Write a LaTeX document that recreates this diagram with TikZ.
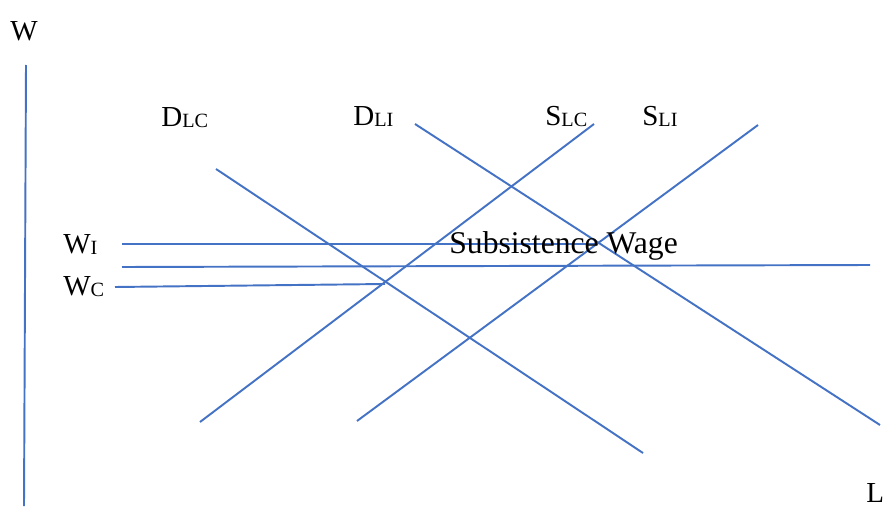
\documentclass[tikz,border=0pt]{standalone}
\usepackage{fontspec}
\setmainfont{Liberation Serif}
\usetikzlibrary{positioning}
\definecolor{blue1}{RGB}{68,114,196}
\newcommand{\sbs}[1]{\raisebox{-1pt}{\fontsize{11.5}{12}\selectfont #1}}

\begin{document}
\begin{tikzpicture}[x=0.02cm, y=-0.02cm,
    curve/.style={draw=blue1, line width=1.1pt},
    lab/.style={inner sep=0pt, anchor=base west, font=\fontsize{16.5}{19}\selectfont},
    wagelab/.style={inner sep=0pt, anchor=base west, font=\fontsize{18}{21}\selectfont}
]
        \useasboundingbox (0,0) rectangle (883,507);

        % axes
        \coordinate (wtop) at (26,65);
        \coordinate (wbot) at (24,506);
        \draw[curve] (wtop) -- (wbot);
        \node[lab, name=W] at (10,40) {W};
        \node[lab, name=L] at (866,502) {L};

        % demand and supply
        \coordinate (dlc1) at (216,169);
        \coordinate (dlc2) at (643,453);
        \coordinate (dli1) at (415,124);
        \coordinate (dli2) at (880,425);
        \coordinate (slc1) at (200,422);
        \coordinate (slc2) at (594,124);
        \coordinate (sli1) at (357,421);
        \coordinate (sli2) at (758,125);

        \draw[curve] (dlc1) -- (dlc2);
        \draw[curve] (dli1) -- (dli2);
        \draw[curve] (slc1) -- (slc2);
        \draw[curve] (sli1) -- (sli2);

        \node[lab, name=DLC] at (161,126) {D\sbs{LC}};
        \node[lab, name=DLI] at (353,125) {D\sbs{LI}};
        \node[lab, name=SLC] at (545,125) {S\sbs{LC}};
        \node[lab, name=SLI] at (642,125) {S\sbs{LI}};

        % wages
        \node[lab, name=WI] at (63,253) {W\sbs{I}};
        \node[lab, name=WC] at (63,295) {W\sbs{C}};
        \coordinate (wi1) at (122,244);
        \coordinate (wi2) at (598,244);
        \coordinate (sub1) at (122,267);
        \coordinate (sub2) at (870,265);
        \coordinate (wc1) at (115,287);
        \coordinate (wc2) at (385,284);
        \draw[curve] (wi1) -- (wi2);
        \draw[curve] (sub1) -- (sub2);
        \draw[curve] (wc1) -- (wc2);

        \node[wagelab, name=subwage] at (449,253) {Subsistence Wage};
\end{tikzpicture}
\end{document}
